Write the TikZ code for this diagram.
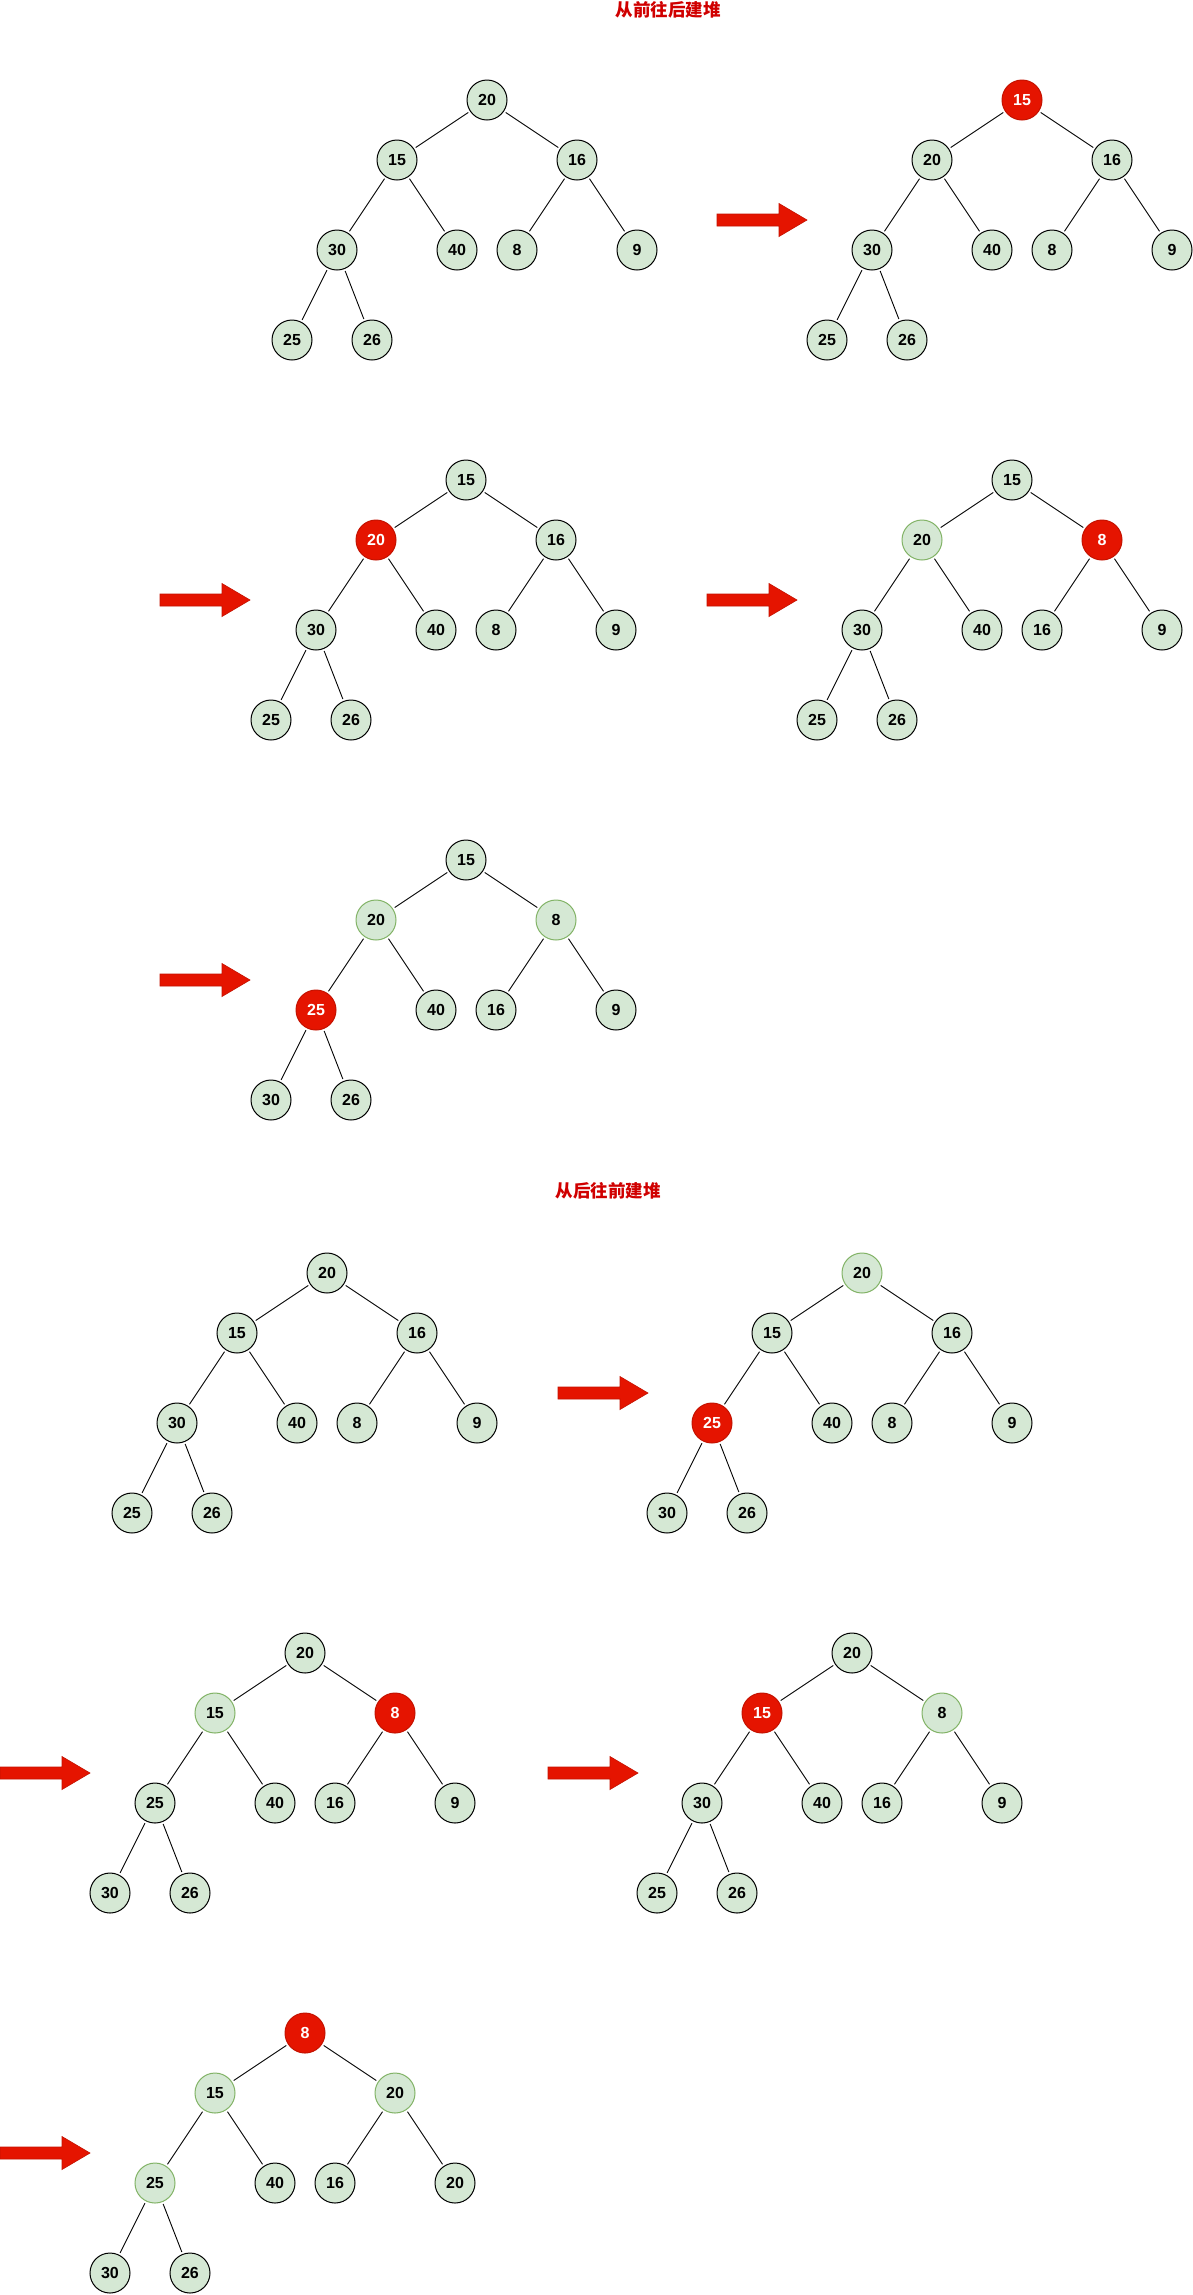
\documentclass[tikz,border=0pt]{standalone}
\usepackage{fontspec}
\setmainfont{Liberation Sans}
\newfontfamily\cjk{Noto Sans CJK SC}
\definecolor{nodegreen}{HTML}{D5E8D4}
\definecolor{lightedge}{HTML}{82B366}
\definecolor{hotred}{HTML}{E51400}
\definecolor{hotedge}{HTML}{C41200}
\definecolor{titlered}{HTML}{D00000}
\newcommand\heaptree[3]{%
  \begin{scope}[shift={#2}]
    \foreach \st/\lb [count=\i] in {#3}{
      \pgfmathsetmacro\ox{{0,-90,90,-150,-30,30,150,-195,-115}[\i-1]}
      \pgfmathsetmacro\oy{{0,60,60,150,150,150,150,240,240}[\i-1]}
      \node[\st] (#1-\i) at (\ox,\oy) {\lb};
    }
    \foreach \a/\b in {1/2,1/3,2/4,2/5,3/6,3/7,4/8,4/9}
      \draw[edge] (#1-\a) -- (#1-\b);
  \end{scope}}
\newcommand\bigarrow[2]{%
  \filldraw[arrowshape] (#1,#2-6) -- (#1+62,#2-6) -- (#1+62,#2-16.5) -- (#1+90,#2)
    -- (#1+62,#2+16.5) -- (#1+62,#2+6) -- (#1,#2+6) -- cycle;}
\begin{document}
\begin{tikzpicture}[x=1pt,y=-1pt,
  nd/.style={circle, minimum size=40pt, inner sep=0pt, line width=1pt,
    font=\fontsize{16}{16}\selectfont\bfseries},
  nrm/.style={nd, draw=black, fill=nodegreen, text=black},
  lgt/.style={nd, draw=lightedge, fill=nodegreen, text=black},
  hot/.style={nd, draw=hotedge, fill=hotred, text=white},
  edge/.style={line width=0.9pt, draw=black, shorten <=2pt, shorten >=2pt},
  arrowshape/.style={fill=hotred, draw=hotedge, line width=0.6pt},
  titletext/.style={text=titlered, inner sep=0pt,
    font=\cjk\bfseries\fontsize{17.5}{17.5}\selectfont}]
\fill[white] (0,0) rectangle (1193,2295);
\useasboundingbox (0,0) rectangle (1193,2295);

\node[titletext] (t1) at (668,10) {从前往后建堆};
\node[titletext] (t2) at (608,1191) {从后往前建堆};

\heaptree{a}{(487,100)}{nrm/20,nrm/15,nrm/16,nrm/30,nrm/40,nrm/8,nrm/9,nrm/25,nrm/26}
\heaptree{b}{(1022,100)}{hot/15,nrm/20,nrm/16,nrm/30,nrm/40,nrm/8,nrm/9,nrm/25,nrm/26}
\heaptree{c}{(466,480)}{nrm/15,hot/20,nrm/16,nrm/30,nrm/40,nrm/8,nrm/9,nrm/25,nrm/26}
\heaptree{d}{(1012,480)}{nrm/15,lgt/20,hot/8,nrm/30,nrm/40,nrm/16,nrm/9,nrm/25,nrm/26}
\heaptree{e}{(466,860)}{nrm/15,lgt/20,lgt/8,hot/25,nrm/40,nrm/16,nrm/9,nrm/30,nrm/26}
\heaptree{f}{(327,1273)}{nrm/20,nrm/15,nrm/16,nrm/30,nrm/40,nrm/8,nrm/9,nrm/25,nrm/26}
\heaptree{g}{(862,1273)}{lgt/20,nrm/15,nrm/16,hot/25,nrm/40,nrm/8,nrm/9,nrm/30,nrm/26}
\heaptree{h}{(305,1653)}{nrm/20,lgt/15,hot/8,nrm/25,nrm/40,nrm/16,nrm/9,nrm/30,nrm/26}
\heaptree{i}{(852,1653)}{nrm/20,hot/15,lgt/8,nrm/30,nrm/40,nrm/16,nrm/9,nrm/25,nrm/26}
\heaptree{j}{(305,2033)}{hot/8,lgt/15,lgt/20,lgt/25,nrm/40,nrm/16,nrm/20,nrm/30,nrm/26}

\bigarrow{717}{220}
\bigarrow{160}{600}
\bigarrow{707}{600}
\bigarrow{160}{980}
\bigarrow{558}{1393}
\bigarrow{0}{1773}
\bigarrow{548}{1773}
\bigarrow{0}{2153}
\end{tikzpicture}
\end{document}
